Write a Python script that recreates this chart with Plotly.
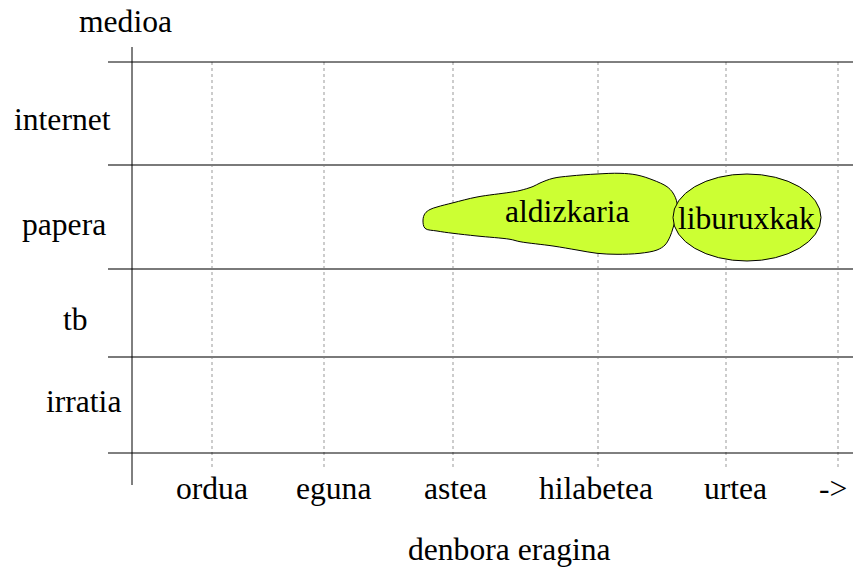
import plotly.graph_objects as go

# ---- data ----
time_labels = ["ordua", "eguna", "astea", "hilabetea", "urtea", "->"]
time_grid = [212, 324, 453, 598, 726, 838]          # grid positions on the time scale
time_label_x = [212, 333, 455, 596, 735, 833]

media_labels = ["internet", "papera", "tb", "irratia"]
media_bounds = [62, 165, 269, 357, 453]            # row boundaries on the media scale
media_label_x = [62, 64, 75, 83]
media_label_y = [119, 224.5, 319, 401]

# aldizkaria outline (time scale, media scale)
aldiz_x = [423, 425, 430, 437, 453, 477, 510, 520, 533, 540, 553, 570, 597, 620, 637,
           653, 667, 673, 677, 676, 673, 670, 665, 657, 640, 617, 597, 577, 553, 520,
           510, 477, 453, 437, 425, 423]
aldiz_y = [220, 213.5, 209.5, 207, 202.8, 197, 192.3, 190.5, 186.5, 183, 178.3, 176, 174,
           173.3, 175, 180, 186.7, 193, 203, 216.7, 228, 236.7, 245, 250, 253.3, 254.3,
           253.3, 250, 246, 241.7, 239.3, 236, 233.3, 231, 228.3, 220]
aldiz_label = ("aldizkaria", 567, 211)

# liburuxkak ellipse
libur_center = (747, 217.5)
libur_radius = (74, 43.5)
libur_label = ("liburuxkak", 746, 218)

FILL = "#ccff33"
FONT = "Liberation Serif, Times New Roman, serif"
FS = 31.6

W, H = 853, 567

fig = go.Figure()

# dotted vertical grid lines
for gx in time_grid:
    fig.add_trace(go.Scatter(x=[gx, gx], y=[media_bounds[0], 467], mode="lines",
                             line=dict(color="#999999", width=1, dash="dot"),
                             hoverinfo="skip", showlegend=False))

# horizontal row lines
for i, by in enumerate(media_bounds):
    edge = i in (0, len(media_bounds) - 1)
    fig.add_trace(go.Scatter(x=[108, 853], y=[by, by], mode="lines",
                             line=dict(color="#000000" if edge else "#7a7a7a",
                                       width=1 if edge else 2),
                             hoverinfo="skip", showlegend=False))

# vertical axis
fig.add_trace(go.Scatter(x=[132, 132], y=[47, 485], mode="lines",
                         line=dict(color="#000000", width=1),
                         hoverinfo="skip", showlegend=False))

# ellipse (liburuxkak)
cx, cy = libur_center
rx, ry = libur_radius
fig.add_shape(type="circle", xref="x", yref="y",
              x0=cx - rx, x1=cx + rx, y0=cy - ry, y1=cy + ry,
              fillcolor=FILL, line=dict(color="#000000", width=1), layer="above")

# blob (aldizkaria)
fig.add_trace(go.Scatter(x=aldiz_x, y=aldiz_y, mode="lines", fill="toself",
                         fillcolor=FILL, line=dict(color="#000000", width=1, shape="spline"),
                         hoverinfo="skip", showlegend=False))

ann = []
def txt(t, x, y):
    ann.append(dict(text=t, x=x, y=y, xref="x", yref="y", showarrow=False,
                    xanchor="center", yanchor="middle", borderpad=0,
                    font=dict(family=FONT, size=FS, color="#000000")))

txt("medioa", 125, 21)
for lab, lx, ly in zip(media_labels, media_label_x, media_label_y):
    txt(lab, lx, ly)
for lab, lx in zip(time_labels, time_label_x):
    txt(lab, lx, 488)
txt("denbora eragina", 509, 549)
txt(*aldiz_label)
txt(*libur_label)

fig.update_layout(
    width=W, height=H,
    margin=dict(l=0, r=0, t=0, b=0),
    paper_bgcolor="white", plot_bgcolor="white",
    xaxis=dict(range=[0, W], visible=False, fixedrange=True),
    yaxis=dict(range=[H, 0], visible=False, fixedrange=True),
    annotations=ann,
)
fig.write_html("out.html",
               config={"displayModeBar": False},
               post_script="document.body.style.margin='0';"
                           "document.body.style.overflow='hidden';")
